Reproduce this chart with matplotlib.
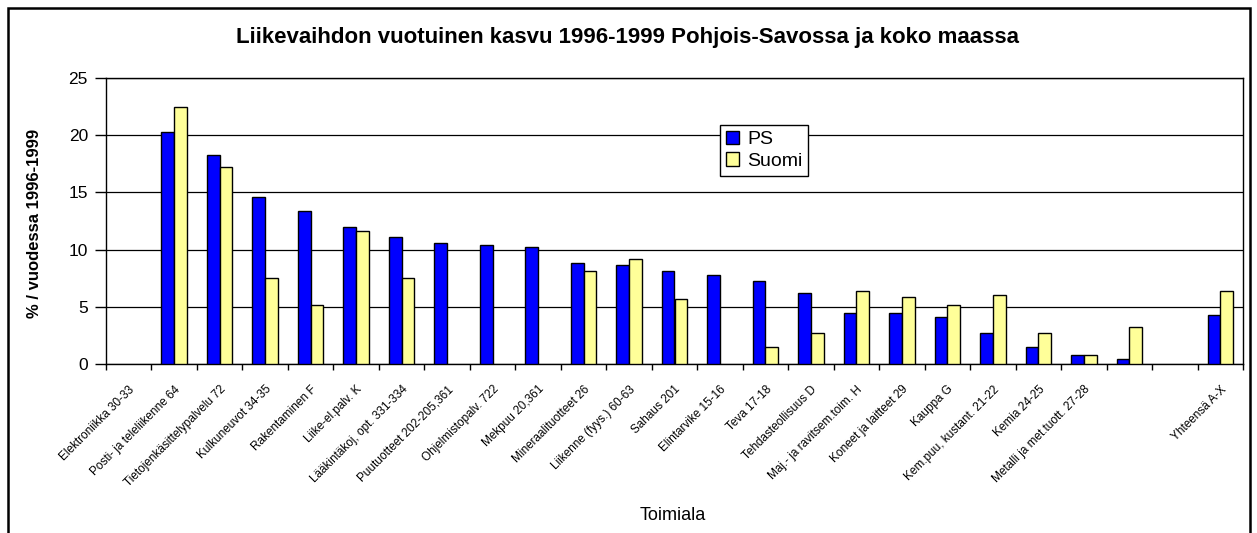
import numpy as np
import matplotlib
matplotlib.use("Agg")
import matplotlib.pyplot as plt
from matplotlib.patches import Rectangle

plt.rcParams['font.family'] = ['Liberation Sans', 'DejaVu Sans']

categories = ["Elektroniikka 30-33", "Posti- ja teleliikenne 64", "Tietojenkäsittelypalvelu 72",
              "Kulkuneuvot 34-35", "Rakentaminen F", "Liike-el.palv. K",
              "Lääkintäkoj, opt. 331-334", "Puutuotteet 202-205,361", "Ohjelmistopalv. 722",
              "Mekpuu 20,361", "Mineraalituotteet 26", "Liikenne (fyys.) 60-63",
              "Sahaus 201", "Elintarvike 15-16", "Teva 17-18", "Tehdasteollisuus D",
              "Maj.- ja ravitsem.toim. H", "Koneet ja laitteet 29", "Kauppa G",
              "Kem.puu, kustant. 21-22", "Kemia 24-25", "Metalli ja met.tuott. 27-28",
              "", "", "Yhteensä A-X"]
ps = [np.nan, 20.3, 18.3, 14.6, 13.4, 11.95, 11.07, 10.58, 10.37, 10.2, 8.82, 8.65,
      8.12, 7.77, 7.25, 6.19, 4.47, 4.44, 4.12, 2.68, 1.46, 0.75, 0.44, np.nan, 4.26]
suomi = [np.nan, 22.5, 17.25, 7.56, 5.14, 11.6, 7.56, np.nan, np.nan, np.nan, 8.12, 9.21,
         5.67, np.nan, 1.46, 2.68, 6.37, 5.82, 5.14, 6.02, 2.68, 0.75, 3.21, np.nan, 6.37]
yticks = [0, 5, 10, 15, 20, 25]

W, H = 1257, 533
fig = plt.figure(figsize=(W / 100, H / 100), dpi=100)

# outer chart border
fig.patches.append(Rectangle((8 / W, -0.05), (1250 - 8) / W, 1.05 - 8 / H,
                             transform=fig.transFigure, fill=False,
                             edgecolor='black', linewidth=1.8))

ax = fig.add_axes([106 / W, (H - 364) / H, (1243 - 106) / W, (364 - 78) / H])
x = np.arange(len(categories))
w = 0.28
ax.bar(x - w / 2, ps, width=w, color='#0000FF', edgecolor='black', linewidth=1.0,
       label='PS', zorder=3)
ax.bar(x + w / 2, suomi, width=w, color='#FFFF99', edgecolor='black', linewidth=1.0,
       label='Suomi', zorder=3)

ax.set_xlim(-0.5, len(categories) - 0.5)
ax.set_ylim(0, 25)
ax.set_yticks(yticks)
ax.yaxis.grid(True, color='black', linewidth=0.9, zorder=0)
ax.set_axisbelow(True)
for s in ax.spines.values():
    s.set_color('black')
    s.set_linewidth(1.0)

ax.set_xticks(x)
ax.set_xticklabels(categories, rotation=45, ha='right', va='top',
                   rotation_mode='anchor', fontsize=8.5)
ax.set_xticks(np.arange(-0.5, len(categories), 1.0), minor=True)
ax.tick_params(axis='x', which='major', length=0, pad=14)
ax.tick_params(axis='x', which='minor', length=4, width=1, direction='out')
ax.tick_params(axis='y', length=8, width=1, direction='out', labelsize=12.5, pad=5)

ax.set_ylabel('% / vuodessa 1996-1999', fontsize=12, fontweight='bold')
ax.yaxis.set_label_coords(-0.056, 0.49)
fig.text(673 / W, 1 - 515 / H, 'Toimiala', ha='center', va='center', fontsize=13)
fig.text(628 / W, 1 - 38 / H,
         'Liikevaihdon vuotuinen kasvu 1996-1999 Pohjois-Savossa ja koko maassa',
         ha='center', va='center', fontsize=16, fontweight='bold')

leg = ax.legend(loc='upper left', bbox_to_anchor=(720 / W, 1 - 125 / H),
                bbox_transform=fig.transFigure, fontsize=14, frameon=True,
                fancybox=False, edgecolor='black', framealpha=1,
                handlelength=0.7, handleheight=0.7, handletextpad=0.4,
                borderpad=0.3, labelspacing=0.2, borderaxespad=0)
leg.get_frame().set_linewidth(1.0)

fig.savefig('out.png', dpi=100)
